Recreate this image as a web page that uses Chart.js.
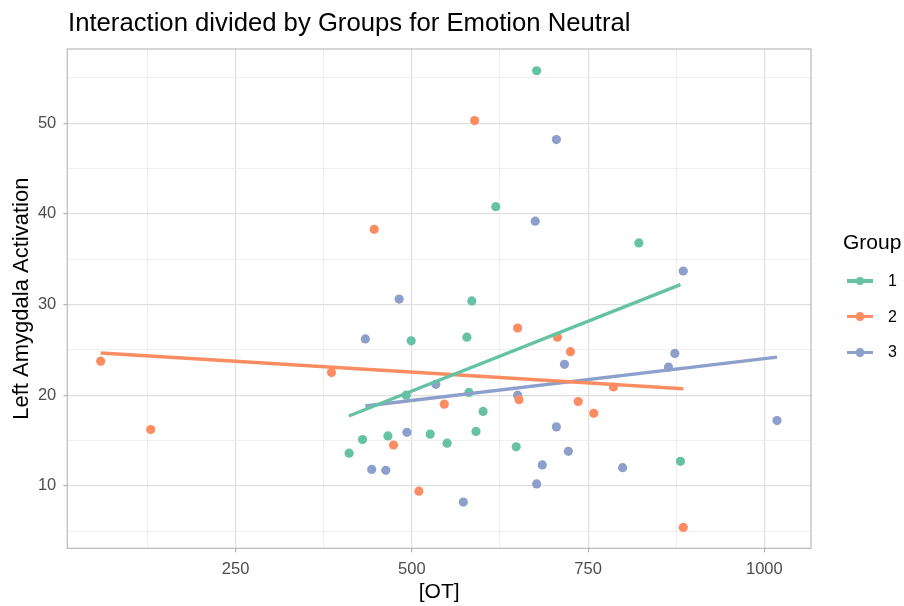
<!DOCTYPE html>
<html>
<head>
<meta charset="utf-8">
<script src="https://cdn.jsdelivr.net/npm/chart.js@4.4.1/dist/chart.umd.min.js"></script>
<style>
  html, body { margin: 0; padding: 0; background: #ffffff; }
  #wrap { position: relative; width: 904px; height: 606px; font-family: "Liberation Sans", Arial, sans-serif; }
  #c { position: absolute; left: 0; top: 0; }
  #title { position: absolute; left: 68px; top: 9px; font-size: 25.7px; line-height: 26px; color: #000; white-space: nowrap; }
  #legend { position: absolute; left: 843px; top: 230px; }
  #legend .lt { font-size: 21px; line-height: 24px; color: #000; height: 24px; margin-bottom: 17px; }
  #legend .row { position: relative; height: 35.7px; }
  #legend .key { position: absolute; left: 4px; top: 0; width: 26px; height: 20px; }
  #legend .key .ln { position: absolute; left: 0; top: 8.3px; width: 26px; height: 3.4px; }
  #legend .key .dt { position: absolute; left: 8.6px; top: 5.6px; width: 8.8px; height: 8.8px; border-radius: 50%; }
  #legend .lab { position: absolute; left: 45px; top: 0; font-size: 16px; line-height: 20px; color: #000; }
</style>
</head>
<body>
<div id="wrap">
  <canvas id="c" width="904" height="606"></canvas>
  <div id="title">Interaction divided by Groups for Emotion Neutral</div>
  <div id="legend"></div>
</div>
<script>
// ---- data ----
const groupNames = ['1', '2', '3'];
const groupColors = ['#66c2a5', '#fc8d62', '#8da0cb'];

const g1X = [677, 619, 822, 585, 499, 578, 492, 581, 601, 430, 466, 526, 550, 591, 648, 411, 881];
const g1Y = [55.8, 40.8, 36.8, 30.4, 26.0, 26.4, 20.0, 20.3, 18.2, 15.1, 15.5, 15.7, 14.7, 16.0, 14.3, 13.6, 12.7];

const g2X = [58.6, 129.5, 386, 446.5, 589, 650, 706.5, 725, 546, 652, 736, 758, 786, 474, 510, 885];
const g2Y = [23.75, 16.2, 22.5, 38.3, 50.3, 27.4, 26.4, 24.8, 19.0, 19.5, 19.3, 18.0, 20.9, 14.5, 9.4, 5.4];

const g3X = [705, 675, 885, 482, 434, 534, 650, 716.5, 873, 864, 493, 705, 722, 685, 443, 463, 677, 573, 799, 1018];
const g3Y = [48.2, 39.2, 33.7, 30.6, 26.2, 21.2, 20.0, 23.4, 24.6, 23.1, 15.9, 16.5, 13.8, 12.3, 11.8, 11.7, 10.2, 8.2, 12.0, 17.2];

// fitted trend lines (end points)
const fit1X = [410.6, 881];   const fit1Y = [17.7, 32.2];
const fit2X = [58.6, 885];    const fit2Y = [24.65, 20.7];
const fit3X = [434, 1018];    const fit3Y = [18.8, 24.2];

const xTickValues = [125, 250, 375, 500, 625, 750, 875, 1000];
const xTickLabels = ['', '250', '', '500', '', '750', '', '1000'];
const yTickValues = [5, 10, 15, 20, 25, 30, 35, 40, 45, 50, 55];
const yTickLabels = ['', '10', '', '20', '', '30', '', '40', '', '50', ''];

const xTitle = '[OT]';
const yTitle = 'Left Amygdala Activation';
const legendTitle = 'Group';

// ---- build ----
const zip = (xs, ys) => xs.map((x, i) => ({ x: x, y: ys[i] }));
const pts = [zip(g1X, g1Y), zip(g2X, g2Y), zip(g3X, g3Y)];
const fits = [zip(fit1X, fit1Y), zip(fit2X, fit2Y), zip(fit3X, fit3Y)];

const datasets = [];
fits.forEach((d, i) => datasets.push({
  label: 'fit ' + groupNames[i], data: d, showLine: true, borderColor: groupColors[i],
  borderWidth: 3.4, pointRadius: 0, order: 0, borderCapStyle: 'butt'
}));
pts.forEach((d, i) => datasets.push({
  label: groupNames[i], data: d, showLine: false, backgroundColor: groupColors[i],
  borderWidth: 0, pointRadius: 4.6, order: 1
}));

const isMajorX = v => xTickLabels[xTickValues.indexOf(v)] !== '';
const isMajorY = v => yTickLabels[yTickValues.indexOf(v)] !== '';

const panelBorder = {
  id: 'panelBorder',
  afterDatasetsDraw(chart) {
    const a = chart.chartArea, ctx = chart.ctx;
    ctx.save();
    ctx.strokeStyle = '#b3b3b3';
    ctx.lineWidth = 1.1;
    ctx.strokeRect(a.left, a.top, a.right - a.left, a.bottom - a.top);
    ctx.restore();
  }
};

const tickFont = { family: '"Liberation Sans", Arial, sans-serif', size: 16.5 };
const xTitleFont = { family: '"Liberation Sans", Arial, sans-serif', size: 21 };
const yTitleFont = { family: '"Liberation Sans", Arial, sans-serif', size: 22 };

new Chart(document.getElementById('c'), {
  type: 'scatter',
  data: { datasets: datasets },
  plugins: [panelBorder],
  options: {
    responsive: false, animation: false, devicePixelRatio: 1,
    layout: { padding: { top: 49, right: 93, left: 0, bottom: 0 } },
    plugins: { legend: { display: false }, tooltip: { enabled: false }, title: { display: false } },
    scales: {
      x: {
        type: 'linear', min: 11.2, max: 1066.2,
        afterBuildTicks: s => { s.ticks = xTickValues.map(v => ({ value: v })); },
        afterFit: s => { s.height = 57.7; },
        ticks: { callback: v => xTickLabels[xTickValues.indexOf(v)] || '', color: '#4d4d4d', font: tickFont, padding: 7, maxRotation: 0, autoSkip: false },
        grid: {
          color: c => isMajorX(c.tick.value) ? '#e0e0e0' : '#efefef',
          lineWidth: c => isMajorX(c.tick.value) ? 1.2 : 1,
          tickColor: c => isMajorX(c.tick.value) ? '#b3b3b3' : 'rgba(0,0,0,0)',
          tickLength: 4, drawTicks: true
        },
        border: { display: false },
        title: { display: true, text: xTitle, color: '#000', font: xTitleFont, padding: { top: 0, bottom: 1 } }
      },
      y: {
        type: 'linear', min: 3.1, max: 58.2,
        afterBuildTicks: s => { s.ticks = yTickValues.map(v => ({ value: v })); },
        afterFit: s => { s.width = 67.3; },
        ticks: { callback: v => yTickLabels[yTickValues.indexOf(v)] || '', color: '#4d4d4d', font: tickFont, padding: 7, autoSkip: false },
        grid: {
          color: c => isMajorY(c.tick.value) ? '#e0e0e0' : '#efefef',
          lineWidth: c => isMajorY(c.tick.value) ? 1.2 : 1,
          tickColor: c => isMajorY(c.tick.value) ? '#b3b3b3' : 'rgba(0,0,0,0)',
          tickLength: 4, drawTicks: true
        },
        border: { display: false },
        title: { display: true, text: yTitle, color: '#000', font: yTitleFont, padding: { top: 9, bottom: 0 } }
      }
    }
  }
});

// ---- legend ----
const lg = document.getElementById('legend');
const lt = document.createElement('div'); lt.className = 'lt'; lt.textContent = legendTitle; lg.appendChild(lt);
groupNames.forEach((g, i) => {
  const row = document.createElement('div'); row.className = 'row';
  const key = document.createElement('div'); key.className = 'key';
  const ln = document.createElement('div'); ln.className = 'ln'; ln.style.background = groupColors[i];
  const dt = document.createElement('div'); dt.className = 'dt'; dt.style.background = groupColors[i];
  key.appendChild(ln); key.appendChild(dt);
  const lab = document.createElement('div'); lab.className = 'lab'; lab.textContent = g;
  row.appendChild(key); row.appendChild(lab); lg.appendChild(row);
});
</script>
</body>
</html>
